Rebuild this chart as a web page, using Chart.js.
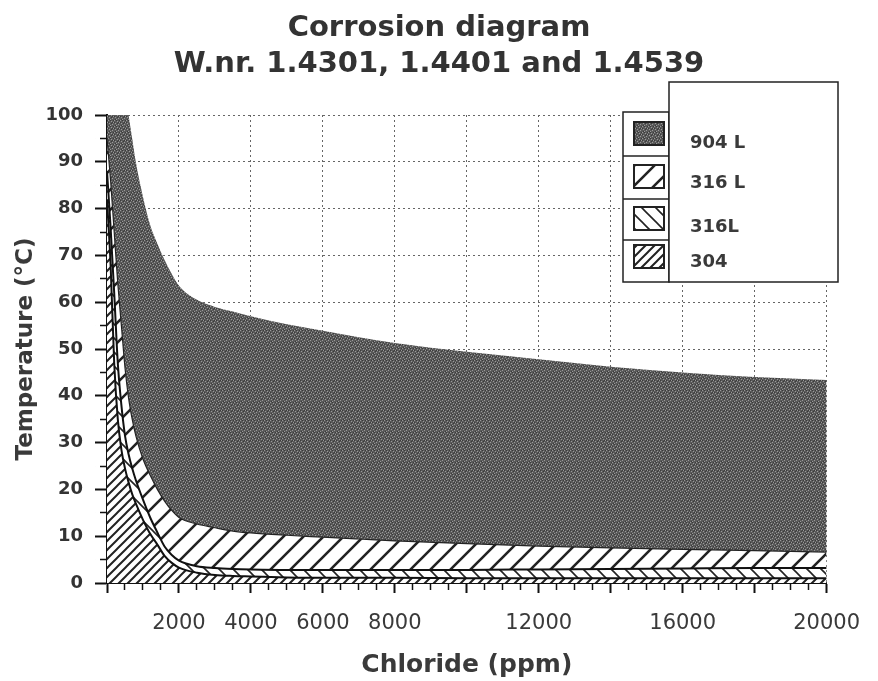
<!DOCTYPE html>
<html><head><meta charset="utf-8">
<script src="https://cdn.jsdelivr.net/npm/chart.js@4"></script>
<style>html,body{margin:0;padding:0;background:#fff}</style>
</head><body>
<canvas id="c" width="878" height="681"></canvas>
<script>
// ---- data ----
const chloride = [0,100,200,300,400,500,600,700,800,1000,1200,1400,1600,1800,2000,2500,3000,3500,4000,5000,6000,7000,8000,10000,12000,14000,16000,18000,20000];
const temp904L = [170,150,135,122,113,106,100,95,90,82.5,76.5,72.5,69,66,63.5,60.5,59,58,57,55.3,53.9,52.5,51.3,49.4,47.8,46.2,45,44,43.4];
const temp316L_a = [95,86,75,64,55,46,39.5,35,31.5,26.5,23,20,17.5,15.5,14,12.6,11.8,11.1,10.7,10.2,9.8,9.4,9,8.4,7.9,7.5,7.2,6.9,6.6];
const temp316L_b = [88,76,62,47,38,31.5,27.5,24.5,22,17.8,14,10.8,7.8,6,4.8,3.6,3.2,3,2.9,2.8,2.8,2.8,2.8,2.8,2.9,3,3.1,3.2,3.2];
const temp304 = [82,68,47,35,28.5,24.5,21.5,19,17,13.5,10.5,8.2,5.8,4.3,3.3,2.2,1.7,1.5,1.4,1.2,1.1,1.1,1.1,1,1,1,1,1,1];
const seriesLabels = ['304', '316L', '316 L', '904 L'];
const xTickLabels = [2000,4000,6000,8000,12000,16000,20000];
const titleLines = ['Corrosion diagram', 'W.nr. 1.4301, 1.4401 and 1.4539'];

// ---- patterns ----
function hatch(p, lw, dir, fg) {
  const c = document.createElement('canvas'); c.width = p; c.height = p;
  const g = c.getContext('2d');
  g.fillStyle = '#fff'; g.fillRect(0,0,p,p);
  g.strokeStyle = fg; g.lineWidth = lw; g.lineCap = 'square';
  g.beginPath();
  if (dir === '/') {
    g.moveTo(0,p); g.lineTo(p,0);
    g.moveTo(-p/2,p/2); g.lineTo(p/2,-p/2);
    g.moveTo(p/2,3*p/2); g.lineTo(3*p/2,p/2);
  } else {
    g.moveTo(0,0); g.lineTo(p,p);
    g.moveTo(-p/2,p/2); g.lineTo(p/2,3*p/2);
    g.moveTo(p/2,-p/2); g.lineTo(3*p/2,p/2);
  }
  g.stroke();
  return g.createPattern(c, 'repeat');
}
function stipple() {
  const c = document.createElement('canvas'); c.width = 6; c.height = 6;
  const g = c.getContext('2d');
  g.fillStyle = '#5a5a5a'; g.fillRect(0,0,6,6);
  const light = [[0,0],[3,1],[1,3],[4,4],[5,2],[2,5]];
  const dark = [[2,0],[5,0],[0,2],[3,3],[1,5],[4,2]];
  g.fillStyle = '#9a9a9a'; light.forEach(([x,y]) => g.fillRect(x,y,1,1));
  g.fillStyle = '#3a3a3a'; dark.forEach(([x,y]) => g.fillRect(x,y,1,1));
  return g.createPattern(c, 'repeat');
}
const pat304 = hatch(9, 2, '/', '#222');
const pat316b = hatch(14, 1.6, '\\', '#222');
const pat316a = hatch(20, 2.6, '/', '#222');
const pat904 = stipple();

const toPts = arr => chloride.map((x, i) => ({x, y: arr[i]}));

const FONT = 'DejaVu Sans';

const boxLegend = {
  id: 'boxLegend',
  afterDraw(chart) {
    const ctx = chart.ctx;
    const ds = chart.data.datasets.slice().reverse();
    ctx.save();
    ctx.fillStyle = '#fff'; ctx.strokeStyle = '#222'; ctx.lineWidth = 1.5;
    ctx.fillRect(623, 112, 46, 170); ctx.strokeRect(623, 112, 46, 170);
    ctx.fillRect(669, 82, 169, 200); ctx.strokeRect(669, 82, 169, 200);
    const dividers = [156, 199, 240];
    dividers.forEach(y => { ctx.beginPath(); ctx.moveTo(623, y); ctx.lineTo(669, y); ctx.stroke(); });
    const swY = [122, 165, 207, 245];
    const txtY = [143, 183, 227, 262];
    ds.forEach((d, i) => {
      ctx.fillStyle = d.backgroundColor;
      ctx.fillRect(634, swY[i], 30, 23);
      ctx.lineWidth = 2; ctx.strokeStyle = '#222';
      ctx.strokeRect(634, swY[i], 30, 23);
      ctx.fillStyle = '#3a3a3a';
      ctx.font = 'bold 18px "' + FONT + '"';
      ctx.textBaseline = 'middle'; ctx.textAlign = 'left';
      ctx.fillText(d.label, 690, txtY[i]);
    });
    ctx.restore();
  }
};

new Chart(document.getElementById('c'), {
  type: 'line',
  data: {
    datasets: [
      { label: seriesLabels[0], data: toPts(temp304), fill: 'origin', backgroundColor: pat304, borderColor: '#111', borderWidth: 2 },
      { label: seriesLabels[1], data: toPts(temp316L_b), fill: '-1', backgroundColor: pat316b, borderColor: '#111', borderWidth: 2 },
      { label: seriesLabels[2], data: toPts(temp316L_a), fill: '-1', backgroundColor: pat316a, borderColor: '#222', borderWidth: 1.2 },
      { label: seriesLabels[3], data: toPts(temp904L), fill: '-1', backgroundColor: pat904, borderColor: 'rgba(0,0,0,0)', borderWidth: 0 }
    ]
  },
  options: {
    responsive: false,
    animation: false,
    devicePixelRatio: 1,
    layout: { padding: 0 },
    elements: { point: { radius: 0 }, line: { cubicInterpolationMode: 'monotone' } },
    plugins: {
      legend: { display: false },
      tooltip: { enabled: false },
      title: {
        display: true, text: titleLines, color: '#333',
        font: { family: FONT, size: 29, weight: 'bold', lineHeight: 1.25 },
        padding: { top: 10, bottom: 32.5 }
      }
    },
    scales: {
      x: {
        type: 'linear', min: 0, max: 20000,
        afterFit(s) { s.height = 98; },
        ticks: {
          stepSize: 500, autoSkip: false, maxRotation: 0, padding: 18,
          color: '#3a3a3a', font: { family: FONT, size: 21 },
          callback: v => xTickLabels.includes(v) ? String(v) : ''
        },
        grid: {
          color: c => (c.tick && c.tick.value % 2000 === 0 && c.tick.value !== 0) ? '#666' : 'rgba(0,0,0,0)',
          lineWidth: 1, tickLength: 10, tickColor: '#111',
          tickWidth: c => (c.tick && c.tick.value % 2000 === 0) ? 2 : 1.5,
          tickBorderDash: c => (c.tick && c.tick.value % 2000 === 0) ? [] : [6, 60],
          borderDash: [2, 3]
        },
        border: { display: true, color: '#111', width: 2, dash: [2, 3] },
        title: { display: true, text: 'Chloride (ppm)', color: '#3a3a3a', font: { family: FONT, size: 25, weight: 'bold' }, padding: { top: 0, bottom: 1 } }
      },
      y: {
        type: 'linear', min: 0, max: 100, position: 'left',
        afterFit(s) { s.width = 107; },
        ticks: {
          stepSize: 5, autoSkip: false, padding: 12,
          color: '#333', font: { family: FONT, size: 18, weight: 'bold' },
          callback: v => v % 10 === 0 ? String(v) : ''
        },
        grid: {
          color: c => (c.tick && c.tick.value % 10 === 0 && c.tick.value !== 0) ? '#666' : 'rgba(0,0,0,0)',
          lineWidth: 1, tickLength: 12, tickColor: '#111',
          tickWidth: c => (c.tick && c.tick.value % 10 === 0) ? 2 : 1.5,
          tickBorderDash: c => (c.tick && c.tick.value % 10 === 0) ? [] : [0.01, 5, 8, 60],
          borderDash: [2, 3]
        },
        border: { display: true, color: '#111', width: 2, dash: [2, 3] },
        title: { display: true, text: 'Temperature (°C)', color: '#3a3a3a', font: { family: FONT, size: 23, weight: 'bold' }, padding: { top: 12, bottom: 0 } }
      },
      yR: {
        type: 'linear', position: 'right', min: 0, max: 100, display: true,
        afterFit(s) { s.width = 41; },
        ticks: { display: false }, grid: { display: false, drawTicks: false }, border: { display: false }
      }
    }
  },
  plugins: [boxLegend]
});
</script>
</body></html>
